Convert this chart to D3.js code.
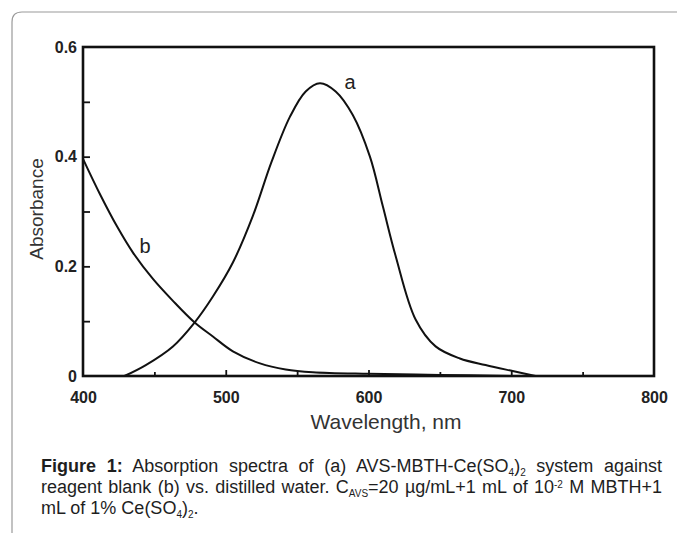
<!DOCTYPE html>
<html>
<head>
<meta charset="utf-8">
<script src="https://cdn.jsdelivr.net/npm/d3@7"></script>
<style>
  body { margin: 0; background: #fff; }
  #wrap { position: relative; width: 677px; height: 533px; overflow: hidden; }
  svg { position: absolute; left: 0; top: 0; }
  .cap {
    position: absolute; left: 41px; width: 621px;
    font: 18px "Liberation Sans", Arial, sans-serif; color: #1e1e1e;
    line-height: 21px; white-space: nowrap;
  }
  .just { text-align: justify; text-align-last: justify; }
  .cap sub, .cap sup { font-size: 10px; line-height: 0; vertical-align: baseline; position: relative; }
  .cap sub { top: 4px; }
  .cap sup { top: -5px; }
</style>
</head>
<body>
<div id="wrap"></div>
<script>
// curve (a): AVS-MBTH-Ce(SO4)2 vs reagent blank
const waveA = [429, 444, 463, 478, 491, 505, 519, 532, 545, 556, 566, 577, 589, 601, 610, 619, 633, 647, 664, 682, 701, 717];
const absA = [0, 0.02, 0.054, 0.097, 0.145, 0.207, 0.292, 0.39, 0.473, 0.519, 0.534, 0.519, 0.476, 0.4, 0.31, 0.219, 0.103, 0.054, 0.032, 0.02, 0.009, 0];
// curve (b): reagent blank vs distilled water
const waveB = [400, 412, 424, 435, 449, 463, 478, 491, 505, 524, 542, 561, 600, 650, 700];
const absB = [0.396, 0.331, 0.272, 0.225, 0.177, 0.137, 0.098, 0.072, 0.045, 0.023, 0.012, 0.007, 0.004, 0.002, 0];

const xLabels = [400, 500, 600, 700, 800];
const xMinor = [450, 550, 650, 750];
const xMajor = [500, 600, 700];
const yLabels = [0, 0.2, 0.4, 0.6];
const yMinor = [0.1, 0.2, 0.3, 0.4, 0.5];

const width = 677, height = 533;
const plot = { left: 83, right: 654, top: 47, bottom: 376 };

const wrap = d3.select('#wrap');
const svg = wrap.append('svg')
  .attr('width', width)
  .attr('height', height);

// card border (rounded top-left corner)
svg.append('path')
  .attr('d', `M12,${height} V22 Q12,12 22,12 H${width}`)
  .attr('fill', 'none')
  .attr('stroke', '#9a9a9a')
  .attr('stroke-width', 1.2);

const x = d3.scaleLinear().domain([400, 800]).range([plot.left, plot.right]);
const y = d3.scaleLinear().domain([0, 0.6]).range([plot.bottom, plot.top]);

const tickFont = g => g.selectAll('text')
  .attr('font-family', '"Liberation Sans", Arial, sans-serif')
  .attr('font-size', 16)
  .attr('font-weight', 'bold')
  .attr('fill', '#222');

const tickLines = g => {
  g.select('.domain').remove();
  g.selectAll('line').attr('stroke', '#111').attr('stroke-width', 1.8);
};

// inner ticks
svg.append('g')
  .attr('transform', `translate(0,${plot.bottom})`)
  .call(d3.axisBottom(x).tickValues(xMinor).tickSize(-4).tickFormat(''))
  .call(tickLines);

svg.append('g')
  .attr('transform', `translate(0,${plot.bottom})`)
  .call(d3.axisBottom(x).tickValues(xMajor).tickSize(-6).tickFormat(''))
  .call(tickLines);

svg.append('g')
  .attr('transform', `translate(${plot.left},0)`)
  .call(d3.axisLeft(y).tickValues(yMinor).tickSize(-7).tickFormat(''))
  .call(tickLines);

// tick labels
svg.append('g')
  .attr('transform', `translate(0,${plot.bottom})`)
  .call(d3.axisBottom(x).tickValues(xLabels).tickSize(0).tickPadding(16).tickFormat(d3.format('d')))
  .call(g => g.select('.domain').remove())
  .call(tickFont);

svg.append('g')
  .attr('transform', `translate(${plot.left},0)`)
  .call(d3.axisLeft(y).tickValues(yLabels).tickSize(0).tickPadding(6)
    .tickFormat(d => d === 0 ? '0' : d.toFixed(1)))
  .call(g => g.select('.domain').remove())
  .call(tickFont);

// frame
svg.append('rect')
  .attr('x', plot.left)
  .attr('y', plot.top)
  .attr('width', plot.right - plot.left)
  .attr('height', plot.bottom - plot.top)
  .attr('fill', 'none')
  .attr('stroke', '#111')
  .attr('stroke-width', 2.6);

// spectra
const line = d3.line()
  .x(d => x(d[0]))
  .y(d => y(d[1]))
  .curve(d3.curveCatmullRom.alpha(0.5));

svg.append('path')
  .datum(d3.zip(waveA, absA))
  .attr('d', line)
  .attr('fill', 'none')
  .attr('stroke', '#111')
  .attr('stroke-width', 2);

svg.append('path')
  .datum(d3.zip(waveB, absB))
  .attr('d', line)
  .attr('fill', 'none')
  .attr('stroke', '#111')
  .attr('stroke-width', 2);

// curve labels
svg.selectAll('.curve-label')
  .data([{ t: 'a', x: 350, y: 89 }, { t: 'b', x: 145, y: 253 }])
  .enter()
  .append('text')
  .attr('class', 'curve-label')
  .attr('x', d => d.x)
  .attr('y', d => d.y)
  .attr('text-anchor', 'middle')
  .attr('font-family', '"Liberation Sans", Arial, sans-serif')
  .attr('font-size', 20)
  .attr('fill', '#222')
  .text(d => d.t);

// axis titles
svg.append('text')
  .attr('x', 386)
  .attr('y', 429)
  .attr('text-anchor', 'middle')
  .attr('font-family', '"Liberation Sans", Arial, sans-serif')
  .attr('font-size', 21)
  .attr('fill', '#333')
  .text('Wavelength, nm');

svg.append('text')
  .attr('transform', 'translate(43,209) rotate(-90)')
  .attr('text-anchor', 'middle')
  .attr('font-family', '"Liberation Sans", Arial, sans-serif')
  .attr('font-size', 19)
  .attr('fill', '#333')
  .text('Absorbance');

// caption
const capLines = [
  { cls: 'cap just', html: '<b>Figure 1:</b> Absorption spectra of (a) AVS-MBTH-Ce(SO<sub>4</sub>)<sub>2</sub> system against' },
  { cls: 'cap just', html: 'reagent blank (b) vs. distilled water. C<sub>AVS</sub>=20 µg/mL+1 mL of 10<sup>-2</sup> M MBTH+1' },
  { cls: 'cap', html: 'mL of 1% Ce(SO<sub>4</sub>)<sub>2</sub>.' }
];

wrap.selectAll('div.cap')
  .data(capLines)
  .enter()
  .append('div')
  .attr('class', d => d.cls)
  .style('top', (d, i) => `${456 + i * 21}px`)
  .html(d => d.html);
</script>
</body>
</html>
